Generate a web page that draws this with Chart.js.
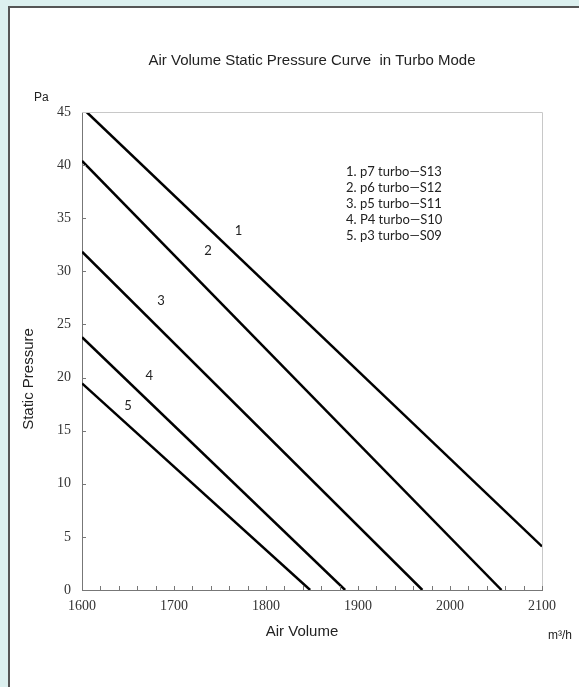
<!DOCTYPE html>
<html>
<head>
<meta charset="utf-8">
<script src="https://cdn.jsdelivr.net/npm/chart.js@4/dist/chart.umd.min.js"></script>
<style>
html,body{margin:0;padding:0;width:579px;height:687px;overflow:hidden;background:#dcf0ef;}
#card{position:absolute;left:8px;top:6px;width:600px;height:700px;background:#fff;border-left:2px solid #555;border-top:2px solid #555;}
#wrap{position:absolute;left:0;top:0;width:579px;height:687px;}
</style>
</head>
<body>
<div id="card"></div>
<div id="wrap"><canvas id="c" width="579" height="687"></canvas></div>
<script>
// Data: [air volume m3/h, static pressure Pa]
const curveNames = ["1", "2", "3", "4", "5"];
const legendLabels = ["1. p7 turbo\u2014S13", "2. p6 turbo\u2014S12", "3. p5 turbo\u2014S11", "4. P4 turbo\u2014S10", "5. p3 turbo\u2014S09"];
const curve1X = [1605, 2100];
const curve1Y = [45, 4.1];
const curve2X = [1600, 2056];
const curve2Y = [40.4, 0];
const curve3X = [1600, 1970];
const curve3Y = [31.85, 0];
const curve4X = [1600, 1886];
const curve4Y = [23.8, 0];
const curve5X = [1600, 1848];
const curve5Y = [19.45, 0];
// label anchor positions for curve numbers (data coords)
const numLabelX = [1770, 1737, 1686, 1673, 1650];
const numLabelY = [33.8, 31.9, 27.2, 20.2, 17.3];
const xTicks = [1600, 1700, 1800, 1900, 2000, 2100];
const yTicks = [0, 5, 10, 15, 20, 25, 30, 35, 40, 45];

const xs = [curve1X, curve2X, curve3X, curve4X, curve5X];
const ys = [curve1Y, curve2Y, curve3Y, curve4Y, curve5Y];
const datasets = curveNames.map((n, i) => ({
  label: n,
  data: xs[i].map((x, j) => ({x: x, y: ys[i][j]})),
  showLine: true,
  borderColor: '#000',
  borderWidth: 2.5,
  pointRadius: 0,
  fill: false
}));

const decor = {
  id: 'decor',
  afterDraw(chart) {
    const ctx = chart.ctx, a = chart.chartArea;
    const sx = chart.scales.x, sy = chart.scales.y;
    ctx.save();
    // top/right frame
    ctx.strokeStyle = '#c8c8c8'; ctx.lineWidth = 1;
    ctx.beginPath();
    ctx.moveTo(a.left, a.top + 0.5); ctx.lineTo(a.right + 0.5, a.top + 0.5); ctx.lineTo(a.right + 0.5, a.bottom);
    ctx.stroke();
    // inner ticks
    ctx.strokeStyle = '#777';
    ctx.beginPath();
    for (let v = 1620; v <= 2100; v += 20) {
      const px = Math.round(sx.getPixelForValue(v)) + 0.5;
      ctx.moveTo(px, a.bottom); ctx.lineTo(px, a.bottom - 4);
    }
    for (let v = 5; v <= 40; v += 5) {
      const py = Math.round(sy.getPixelForValue(v)) + 0.5;
      ctx.moveTo(a.left, py); ctx.lineTo(a.left + 4, py);
    }
    ctx.stroke();
    // texts
    ctx.fillStyle = '#222';
    ctx.textBaseline = 'middle';
    ctx.font = '15px "Liberation Sans", Arial, sans-serif';
    ctx.textAlign = 'center';
    ctx.fillText('Air Volume Static Pressure Curve  in Turbo Mode', 312, 61);
    ctx.fillText('Air Volume', 302, 632);
    ctx.save();
    ctx.translate(29, 379); ctx.rotate(-Math.PI / 2);
    ctx.fillText('Static Pressure', 0, 0);
    ctx.restore();
    ctx.font = '12px "Liberation Sans", Arial, sans-serif';
    ctx.textAlign = 'left';
    ctx.fillText('Pa', 34, 98);
    ctx.fillText('m\u00b3/h', 548, 636);
    ctx.font = '13px Lato, "Open Sans", sans-serif';
    legendLabels.forEach((t, i) => ctx.fillText(t, 346, 172 + i * 16));
    ctx.textAlign = 'center';
    curveNames.forEach((n, i) => {
      ctx.fillText(n, sx.getPixelForValue(numLabelX[i]), sy.getPixelForValue(numLabelY[i]));
    });
    ctx.restore();
  }
};

new Chart(document.getElementById('c'), {
  type: 'scatter',
  data: {datasets: datasets},
  options: {
    responsive: false,
    animation: false,
    layout: {padding: {left: 0, top: 112, right: 37, bottom: 0}},
    plugins: {legend: {display: false}, tooltip: {enabled: false}, title: {display: false}},
    scales: {
      x: {
        type: 'linear', min: 1600, max: 2100,
        afterBuildTicks: (s) => { s.ticks = xTicks.map(v => ({value: v})); },
        afterFit: (s) => { s.height = 97; },
        grid: {drawOnChartArea: false, drawTicks: false},
        border: {color: '#777', width: 1},
        ticks: {padding: 8, color: '#333', callback: (v) => String(v), font: {family: '"Liberation Serif", "DejaVu Serif", serif', size: 14}, maxRotation: 0}
      },
      y: {
        type: 'linear', min: 0, max: 45,
        afterBuildTicks: (s) => { s.ticks = yTicks.map(v => ({value: v})); },
        afterFit: (s) => { s.width = 82; },
        grid: {drawOnChartArea: false, drawTicks: false},
        border: {color: '#777', width: 1},
        ticks: {padding: 11, color: '#333', callback: (v) => String(v), font: {family: '"Liberation Serif", "DejaVu Serif", serif', size: 14}}
      }
    }
  },
  plugins: [decor]
});
</script>
</body>
</html>
